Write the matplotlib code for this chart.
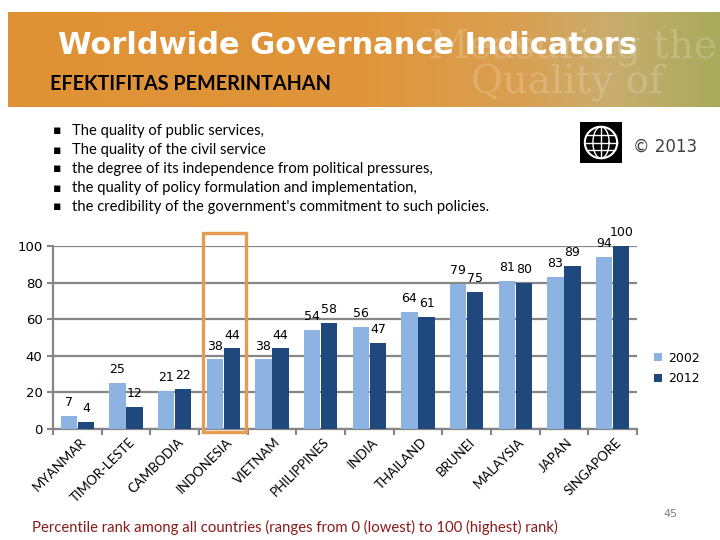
import numpy as np
import matplotlib.pyplot as plt
from matplotlib.colors import LinearSegmentedColormap
from matplotlib.patches import Rectangle

negara = ["MYANMAR", "TIMOR-LESTE", "CAMBODIA", "INDONESIA", "VIETNAM", "PHILIPPINES",
          "INDIA", "THAILAND", "BRUNEI", "MALAYSIA", "JAPAN", "SINGAPORE"]
nilai_2002 = [7, 25, 21, 38, 38, 54, 56, 64, 79, 81, 83, 94]
nilai_2012 = [4, 12, 22, 44, 44, 58, 47, 61, 75, 80, 89, 100]
tahun = ["2002", "2012"]
poin = [
    "The quality of public services,",
    "The quality of the civil service",
    "the degree of its independence from political pressures,",
    "the quality of policy formulation and implementation,",
    "the credibility of the government's commitment to such policies.",
]

W, H = 720, 540
fig = plt.figure(figsize=(7.2, 5.4), dpi=100)
fig.patch.set_facecolor("white")

def fx(px):
    return px / W

def fy(py):
    return 1 - py / H

# banner
ax_b = fig.add_axes([fx(8), fy(107), fx(712), 95 / H])
cmap = LinearSegmentedColormap.from_list(
    "banner", [(0, "#df9135"), (0.5, "#e0953a"), (0.72, "#d9a052"), (0.85, "#c9ad6e"), (1, "#a8aa5c")])
grad = np.linspace(0, 1, 256).reshape(1, -1)
ax_b.imshow(grad, aspect="auto", cmap=cmap, extent=[0, 1, 0, 1])
ax_b.set_xlim(0, 1)
ax_b.set_ylim(0, 1)
ax_b.axis("off")
ax_b.text(0.995, 0.62, "Measuring the", fontsize=28, family="DejaVu Serif", color="white",
          alpha=0.18, va="center", ha="right")
ax_b.text(0.65, 0.25, "Quality of", fontsize=28, family="DejaVu Serif", color="white",
          alpha=0.18, va="center", ha="left")

fig.text(fx(58), fy(45), "Worldwide Governance Indicators", fontsize=22, fontweight="bold",
         family="DejaVu Sans", color="white", va="center", ha="left")
fig.text(fx(50), fy(84), "EFEKTIFITAS PEMERINTAHAN", fontsize=14.2, fontweight="bold",
         family="Lato", color="black", va="center", ha="left")

# bullets
for i, t in enumerate(poin):
    y = 131 + i * 19
    fig.text(fx(53), fy(y), "▪", fontsize=9, family="DejaVu Sans", va="center", ha="left")
    fig.text(fx(72), fy(y), t, fontsize=10.6, family="Lato", va="center", ha="left")

# logo + copyright
ax_l = fig.add_axes([fx(580), fy(163), fx(42), 41 / H])
ax_l.set_facecolor("black")
ax_l.set_xlim(-1.3, 1.3)
ax_l.set_ylim(-1.3, 1.3)
ax_l.set_xticks([])
ax_l.set_yticks([])
th = np.linspace(0, 2 * np.pi, 100)
ax_l.plot(np.cos(th), np.sin(th), color="white", lw=1.5)
for k in [-0.5, 0, 0.5]:
    ax_l.plot([-np.sqrt(1 - k * k), np.sqrt(1 - k * k)], [k, k], color="white", lw=1)
ax_l.plot([0, 0], [-1, 1], color="white", lw=1)
ax_l.plot(0.5 * np.cos(th), np.sin(th), color="white", lw=1)
for s in ax_l.spines.values():
    s.set_visible(False)
fig.text(fx(633), fy(147), "© 2013", fontsize=12, family="DejaVu Sans", color="#404040",
         va="center", ha="left")

# chart
ax = fig.add_axes([fx(53), fy(429), fx(584), 183 / H])
x = np.arange(len(negara))
lebar = 0.34
b1 = ax.bar(x - 0.175, nilai_2002, lebar, color="#8db3e2", label=tahun[0], zorder=3)
b2 = ax.bar(x + 0.175, nilai_2012, lebar, color="#1f497d", label=tahun[1], zorder=3)
for rect, v in zip(b1, nilai_2002):
    ax.annotate(str(v), (rect.get_x() + rect.get_width() / 2, v), xytext=(0, 5),
                textcoords="offset points", ha="center", va="bottom", fontsize=9)
for rect, v in zip(b2, nilai_2012):
    ax.annotate(str(v), (rect.get_x() + rect.get_width() / 2, v), xytext=(0, 5),
                textcoords="offset points", ha="center", va="bottom", fontsize=9)

ax.set_xlim(-0.5, len(negara) - 0.5)
ax.set_ylim(0, 100)
ax.set_yticks([0, 20, 40, 60, 80, 100])
ax.yaxis.grid(True, color="#868686", lw=1.6, zorder=0)
ax.set_axisbelow(True)
ax.set_xticks(x + 0.05)
ax.set_xticklabels(negara, rotation=45, ha="right", va="top", rotation_mode="anchor",
                   fontsize=9.5, family="Lato")
ax.set_xticks(np.arange(-0.5, len(negara)), minor=True)
ax.tick_params(axis="x", which="major", length=0, pad=5)
ax.tick_params(axis="x", which="minor", length=4, color="#868686", width=1.5)
ax.tick_params(axis="y", length=4, color="#868686", width=1.5, labelsize=9.5)
for s in ["top", "right"]:
    ax.spines[s].set_visible(False)
for s in ["left", "bottom"]:
    ax.spines[s].set_color("#868686")
    ax.spines[s].set_linewidth(1.6)
ax.legend(loc="center left", bbox_to_anchor=(1.01, 0.33), frameon=False, fontsize=9,
          handlelength=0.6, handleheight=0.6, handletextpad=0.5, labelspacing=0.6)

# highlight Indonesia
kotak = Rectangle((2.58, -1.5), 0.88, 108.5, fill=False, edgecolor="#e59c52", lw=2.4,
                  clip_on=False, zorder=5)
ax.add_patch(kotak)

fig.text(fx(32), fy(527), "Percentile rank among all countries (ranges from 0 (lowest) to 100 (highest) rank)",
         fontsize=10.7, family="Lato", color="#8b1a1a", va="center", ha="left")
fig.text(fx(670), fy(514), "45", fontsize=8, color="#808080", va="center", ha="center")

fig.savefig("out.png", dpi=100)
